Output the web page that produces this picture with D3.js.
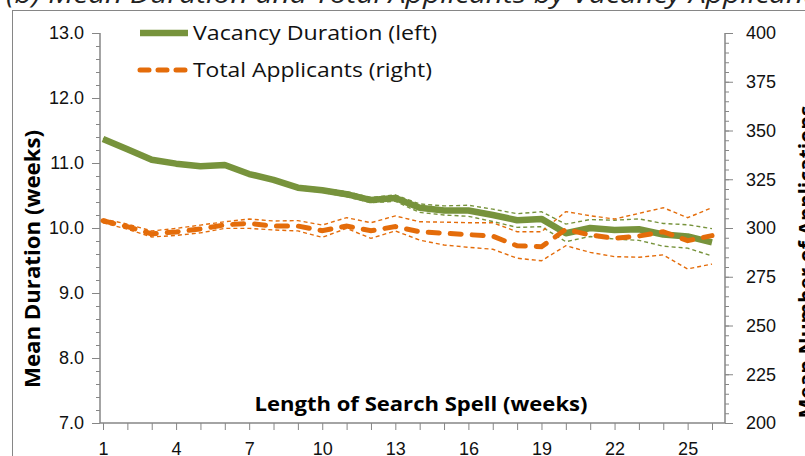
<!DOCTYPE html>
<html><head><meta charset="utf-8">
<script src="https://cdn.jsdelivr.net/npm/d3@7"></script>
<style>
body{margin:0;background:#fff;}
svg{display:block;font-family:"Open Sans",sans-serif;}
</style></head>
<body><svg id="c" width="805" height="456"></svg>
<script>
const weeks = d3.range(1, 27);
const xTickLabels = [1, 4, 7, 10, 13, 16, 19, 22, 25];
const leftTicks = [7, 8, 9, 10, 11, 12, 13];
const rightTicks = [200, 225, 250, 275, 300, 325, 350, 375, 400];

const durationMean = [11.37, 11.21, 11.05, 10.99, 10.95, 10.97, 10.83, 10.74, 10.62, 10.58, 10.52, 10.43, 10.46, 10.31, 10.27, 10.27, 10.20, 10.12, 10.14, 9.92, 10.00, 9.97, 9.98, 9.90, 9.87, 9.78];
const durationUpper = [11.38, 11.22, 11.06, 11.00, 10.96, 10.98, 10.84, 10.76, 10.65, 10.61, 10.56, 10.47, 10.51, 10.37, 10.34, 10.35, 10.29, 10.22, 10.25, 10.06, 10.13, 10.12, 10.14, 10.07, 10.05, 9.99];
const durationLower = [11.36, 11.20, 11.04, 10.98, 10.94, 10.96, 10.82, 10.72, 10.59, 10.55, 10.48, 10.39, 10.41, 10.24, 10.20, 10.18, 10.10, 10.01, 10.02, 9.79, 9.87, 9.83, 9.81, 9.72, 9.69, 9.57];

const applicantsMean = [303.7, 300.7, 297.0, 298.0, 299.5, 301.6, 302.4, 301.0, 301.0, 298.6, 301.0, 298.6, 300.7, 298.1, 297.3, 296.6, 295.8, 290.9, 290.4, 299.3, 296.4, 294.7, 295.9, 298.1, 293.5, 296.1];
const applicantsUpper = [304.7, 302.0, 298.5, 299.8, 301.5, 303.2, 304.6, 303.6, 303.8, 301.5, 305.3, 302.7, 306.2, 303.2, 303.0, 302.7, 302.7, 298.1, 298.1, 308.4, 306.3, 304.6, 307.5, 310.4, 305.3, 310.4];
const applicantsLower = [302.7, 299.4, 295.4, 296.2, 297.5, 299.8, 299.8, 299.0, 298.5, 295.2, 299.8, 294.7, 298.5, 293.8, 291.3, 290.1, 289.1, 284.5, 283.2, 290.9, 287.5, 285.3, 285.0, 286.2, 279.0, 281.5];

const GREEN = "#77933C", ORANGE = "#E46C0A", AXIS = "#868686";

const svg = d3.select("#c");
const x = d3.scalePoint().domain(weeks).range([103, 712]);
const yL = d3.scaleLinear().domain([7, 13]).range([423, 33]);
const yR = d3.scaleLinear().domain([200, 400]).range([423, 33]);

// outer frame & title (cropped)
svg.append("rect").attr("x", 12.5).attr("y", 10.5).attr("width", 900).attr("height", 600)
  .attr("fill", "none").attr("stroke", AXIS).attr("stroke-width", 1);
svg.append("text").attr("x", 6).attr("y", 3).attr("font-size", 25).attr("font-style", "italic")
  .attr("textLength", 820).attr("lengthAdjust", "spacingAndGlyphs")
  .attr("fill", "#222").text("(b)   Mean Duration and Total Applicants by Vacancy Applicants");

function styleAxis(g) {
  g.selectAll("path.domain").remove();
  g.selectAll("line").attr("stroke", AXIS);
  g.selectAll("text").attr("fill", "#111").attr("font-size", 18);
}

// left axis
svg.append("g").attr("transform", "translate(100,0)")
  .call(d3.axisLeft(yL).tickValues(d3.range(7, 13.001, 0.2)).tickSize(4).tickFormat(""))
  .call(styleAxis);
svg.append("g").attr("transform", "translate(100,0)")
  .call(d3.axisLeft(yL).tickValues(leftTicks).tickSize(8).tickPadding(8).tickFormat(d3.format(".1f")))
  .call(styleAxis);
svg.append("line").attr("x1", 100).attr("x2", 100).attr("y1", 33).attr("y2", 423).attr("stroke", AXIS).attr("stroke-width", 1.5);

// right axis
svg.append("g").attr("transform", "translate(725,0)")
  .call(d3.axisRight(yR).tickValues(d3.range(200, 400.001, 5)).tickSize(4).tickFormat(""))
  .call(styleAxis);
svg.append("g").attr("transform", "translate(725,0)")
  .call(d3.axisRight(yR).tickValues(rightTicks).tickSize(8).tickPadding(13).tickFormat(d3.format("d")))
  .call(styleAxis);
svg.append("line").attr("x1", 725).attr("x2", 725).attr("y1", 33).attr("y2", 423).attr("stroke", AXIS).attr("stroke-width", 1.5);

// x axis
svg.append("g").attr("transform", "translate(0,423)")
  .call(d3.axisBottom(x).tickSize(7).tickPadding(12).tickFormat(d => xTickLabels.includes(d) ? d : ""))
  .call(styleAxis);
svg.append("line").attr("x1", 100).attr("x2", 725).attr("y1", 423).attr("y2", 423).attr("stroke", AXIS).attr("stroke-width", 1.5);

// axis titles
svg.append("text").attr("x", 421).attr("y", 411).attr("text-anchor", "middle")
  .attr("font-size", 19).attr("font-weight", "bold").attr("fill", "#000")
  .attr("textLength", 333).attr("lengthAdjust", "spacingAndGlyphs").text("Length of Search Spell (weeks)");
svg.append("text").attr("transform", "translate(40,259) rotate(-90)").attr("text-anchor", "middle")
  .attr("font-size", 21).attr("font-weight", "bold").attr("fill", "#000")
  .attr("textLength", 258).attr("lengthAdjust", "spacingAndGlyphs").text("Mean Duration (weeks)");
svg.append("text").attr("transform", "translate(814,262) rotate(-90)").attr("text-anchor", "middle")
  .attr("font-size", 21).attr("font-weight", "bold").attr("fill", "#000").text("Mean Number of Applications");

// lines
const lineL = arr => d3.line().x((d, i) => x(weeks[i])).y(d => yL(d))(arr);
const lineR = arr => d3.line().x((d, i) => x(weeks[i])).y(d => yR(d))(arr);

[durationUpper, durationLower].forEach(a => svg.append("path").attr("d", lineL(a))
  .attr("fill", "none").attr("stroke", GREEN).attr("stroke-width", 1.4).attr("stroke-dasharray", "4,3"));
[applicantsUpper, applicantsLower].forEach(a => svg.append("path").attr("d", lineR(a))
  .attr("fill", "none").attr("stroke", ORANGE).attr("stroke-width", 1.4).attr("stroke-dasharray", "4,3"));

svg.append("path").attr("d", lineL(durationMean)).attr("fill", "none").attr("stroke", GREEN)
  .attr("stroke-width", 6.5).attr("stroke-linejoin", "round");
svg.append("path").attr("d", lineR(applicantsMean)).attr("fill", "none").attr("stroke", ORANGE)
  .attr("stroke-width", 5).attr("stroke-linecap", "round").attr("stroke-dasharray", "11,11");

// legend
const legend = [
  {name: "Vacancy Duration (left)", color: GREEN, dash: null, w: 6.5, len: 244},
  {name: "Total Applicants (right)", color: ORANGE, dash: "9,9", w: 5, len: 239}
];
legend.forEach((l, i) => {
  const y = 33 + i * 37;
  svg.append("line").attr("x1", 140).attr("x2", 188).attr("y1", y).attr("y2", y)
    .attr("stroke", l.color).attr("stroke-width", l.w)
    .attr("stroke-dasharray", l.dash).attr("stroke-linecap", l.dash ? "round" : "butt");
  svg.append("text").attr("x", 193).attr("y", y + 7).attr("font-size", 20.5).attr("fill", "#111")
    .attr("textLength", l.len).attr("lengthAdjust", "spacingAndGlyphs").text(l.name);
});
</script></body></html>
